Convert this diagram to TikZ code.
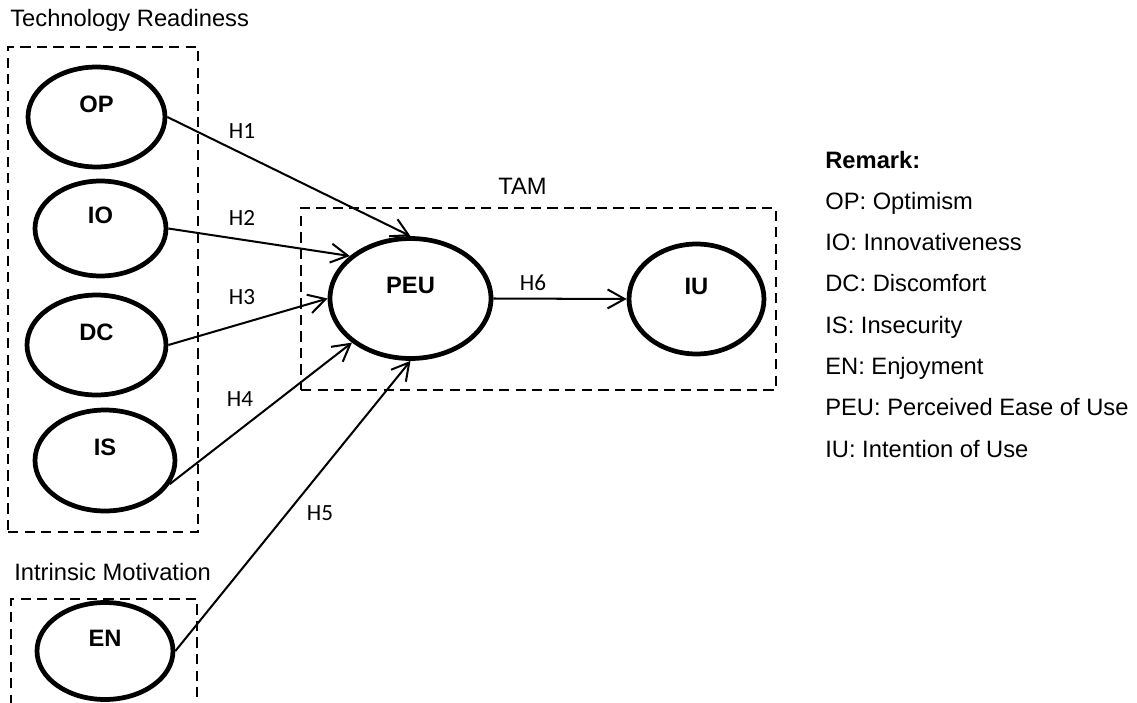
\documentclass[tikz,border=0pt]{standalone}
\usepackage{fontspec}
\setmainfont{Liberation Sans}
\newfontfamily\calibrifont{Carlito}
\usetikzlibrary{arrows.meta,shapes.geometric}

\begin{document}
\begin{tikzpicture}[
  x=0.02cm, y=-0.02cm,
  font=\fontsize{13.5}{16}\selectfont,
  construct/.style={ellipse, draw, line width=2.7pt, inner sep=0pt, minimum width=2.74cm, minimum height=2cm,
    label={[font=\fontsize{13.5}{16}\selectfont\bfseries, yshift=0.26cm]center:#1}},
  group/.style={draw, line width=1.6pt, dash pattern=on 5.8pt off 3.6pt},
  hyp/.style={font=\calibrifont\fontsize{13.2}{15}\selectfont},
  arrow/.style={-{Straight Barb[length=3.4mm, width=3.8mm]}, line width=1.15pt},
  title/.style={anchor=base west, inner sep=0pt},
]
  \useasboundingbox (0,0) rectangle (1137,703);
  \clip (0,0) rectangle (1137,703);

  % Groups
  \node[group, minimum width=3.8cm, minimum height=9.7cm] (tr) at (103,289.5) {};
  \node[group, minimum width=9.5cm, minimum height=3.64cm] (tam) at (538.5,299) {};
  \node[group, minimum width=3.72cm, minimum height=3.2cm] (im) at (104,679) {};

  \node[title] (trtitle) at (10,27) {Technology Readiness};
  \node[title] (imtitle) at (14,580) {Intrinsic Motivation};
  \node[title, anchor=base] (tamtitle) at (522.5,194) {TAM};

  % Constructs
  \node[construct=OP] (op) at (96.5,117) {};
  \node[construct=IO, minimum width=2.62cm, minimum height=1.9cm] (io) at (100.5,228.5) {};
  \node[construct=DC, minimum width=2.78cm] (dc) at (96.5,345) {};
  \node[construct=IS, minimum width=2.8cm, minimum height=2.02cm] (is) at (105,460.5) {};
  \node[construct=EN, minimum width=2.72cm, minimum height=1.94cm] (en) at (105,651) {};
  \node[construct=PEU, minimum width=3.22cm, minimum height=2.4cm] (peu) at (410.5,298.5) {};
  \node[construct=IU, minimum width=2.7cm, minimum height=2.2cm] (iu) at (696.5,299) {};

  % Hypotheses
  \draw[arrow] (op.east) -- (peu.north);
  \draw[arrow] (io.east) -- (peu.145);
  \draw[arrow] (dc.east) -- (peu.west);
  \draw[arrow] (is.340) -- (peu.217);
  \draw[arrow] (en.east) -- (peu.south);
  \draw[arrow] (peu.east) -- (iu.west);

  \node[hyp] (h1) at (242,131) {H1};
  \node[hyp] (h2) at (242,218) {H2};
  \node[hyp] (h3) at (242,297) {H3};
  \node[hyp] (h4) at (240,399) {H4};
  \node[hyp] (h5) at (320,513) {H5};
  \node[hyp] (h6) at (533,283) {H6};

  % Remark
  \node[title, font=\fontsize{13.5}{16}\selectfont\bfseries] (remark) at (825,168) {Remark:};
  \foreach \abbr/\full [count=\i] in {OP/Optimism, IO/Innovativeness, DC/Discomfort, IS/Insecurity,
      EN/Enjoyment, PEU/Perceived Ease of Use, IU/Intention of Use}
    \node[title] (rm\i) at (825,168+41.3*\i) {\abbr: \full};
\end{tikzpicture}
\end{document}
